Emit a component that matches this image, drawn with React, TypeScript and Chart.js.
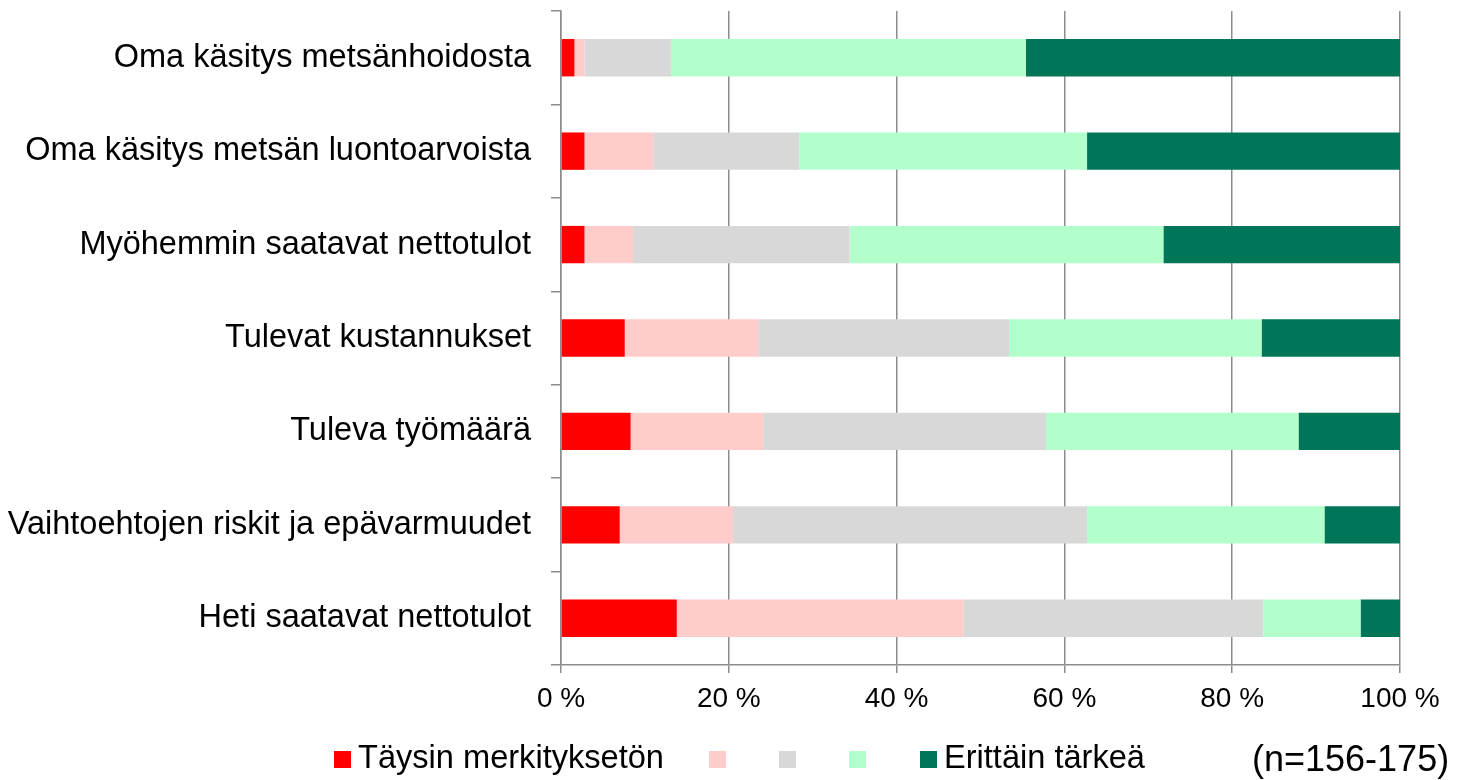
import React, { useEffect, useRef } from "react";
import { Chart, registerables } from "chart.js";

Chart.register(...registerables);

const categories = [
  "Oma käsitys metsänhoidosta",
  "Oma käsitys metsän luontoarvoista",
  "Myöhemmin saatavat nettotulot",
  "Tulevat kustannukset",
  "Tuleva työmäärä",
  "Vaihtoehtojen riskit ja epävarmuudet",
  "Heti saatavat nettotulot",
];

const seriesNames = ["Täysin merkityksetön", "", "", "", "Erittäin tärkeä"];
const seriesColors = ["#FF0000", "#FFCCCC", "#D8D8D8", "#B3FFCC", "#007558"];

const s1 = [1.6, 2.8, 2.8, 7.6, 8.3, 7.0, 13.8];
const s2 = [1.2, 8.2, 5.8, 15.9, 15.8, 13.5, 34.2];
const s3 = [10.3, 17.4, 25.8, 29.9, 33.7, 42.2, 35.7];
const s4 = [42.3, 34.3, 37.4, 30.1, 30.1, 28.3, 11.6];
const s5 = [44.6, 37.3, 28.2, 16.5, 12.1, 9.0, 4.7];
const seriesValues = [s1, s2, s3, s4, s5];

const xTicks = [0, 20, 40, 60, 80, 100];
const noteText = "(n=156-175)";

const FONT = "'Liberation Sans', Arial, sans-serif";
const GRID = "#8C8C8C";

const legendPlugin = {
  id: "customLegend",
  afterDraw(chart: any) {
    const ctx = chart.ctx;
    ctx.save();
    const boxX = [334, 709, 779, 849, 920];
    const boxY = 751;
    const box = 17;
    ctx.font = `32.6px ${FONT}`;
    ctx.textBaseline = "alphabetic";
    ctx.textAlign = "left";
    seriesNames.forEach((name, i) => {
      ctx.fillStyle = seriesColors[i];
      ctx.fillRect(boxX[i], boxY, box, box);
      if (name) {
        ctx.fillStyle = "#000";
        ctx.fillText(name, boxX[i] + box + 7, 768);
      }
    });
    ctx.font = `36px ${FONT}`;
    ctx.fillStyle = "#000";
    ctx.fillText(noteText, 1252, 771);
    ctx.restore();
  },
};

export default function App() {
  const ref = useRef<HTMLCanvasElement>(null);
  useEffect(() => {
    if (!ref.current) return;
    const chart = new Chart(ref.current, {
      type: "bar",
      data: {
        labels: categories,
        datasets: seriesValues.map((vals, i) => ({
          label: seriesNames[i] || `s${i + 1}`,
          data: vals,
          backgroundColor: seriesColors[i],
          borderWidth: 0,
          barPercentage: 0.4,
          categoryPercentage: 1,
        })),
      },
      options: {
        indexAxis: "y",
        responsive: false,
        animation: false,
        layout: { padding: { top: 11, right: 65, left: 0, bottom: 0 } },
        plugins: {
          legend: { display: false },
          tooltip: { enabled: false },
        },
        scales: {
          x: {
            stacked: true,
            min: 0,
            max: 100,
            afterBuildTicks(scale: any) {
              scale.ticks = xTicks.map((v) => ({ value: v }));
            },
            afterFit(scale: any) {
              scale.height = 115;
              scale.paddingLeft = 0;
              scale.paddingRight = 0;
            },
            grid: {
              color: GRID,
              lineWidth: 1.5,
              drawTicks: true,
              tickLength: 8,
              tickColor: GRID,
            },
            border: { display: true, color: GRID, width: 1.5 },
            ticks: {
              font: { family: FONT, size: 28 },
              color: "#000",
              padding: 9,
              maxRotation: 0,
              callback: (v: any) => `${v} %`,
            },
          },
          y: {
            stacked: true,
            afterFit(scale: any) {
              scale.width = 561;
              scale.paddingTop = 0;
              scale.paddingBottom = 0;
            },
            grid: {
              drawOnChartArea: false,
              drawTicks: true,
              tickLength: 10,
              color: GRID,
              lineWidth: 1.5,
              offset: true,
            },
            border: { display: true, color: GRID, width: 1.5 },
            ticks: {
              font: { family: FONT, size: 32.5 },
              color: "#000",
              padding: 20,
              autoSkip: false,
            },
          },
        },
      },
      plugins: [legendPlugin],
    });
    return () => chart.destroy();
  }, []);
  return (
    <div style={{ position: "fixed", left: 0, top: 0, width: 1465, height: 780, background: "#fff" }}>
      <canvas ref={ref} width={1465} height={780} style={{ display: "block" }} />
    </div>
  );
}
